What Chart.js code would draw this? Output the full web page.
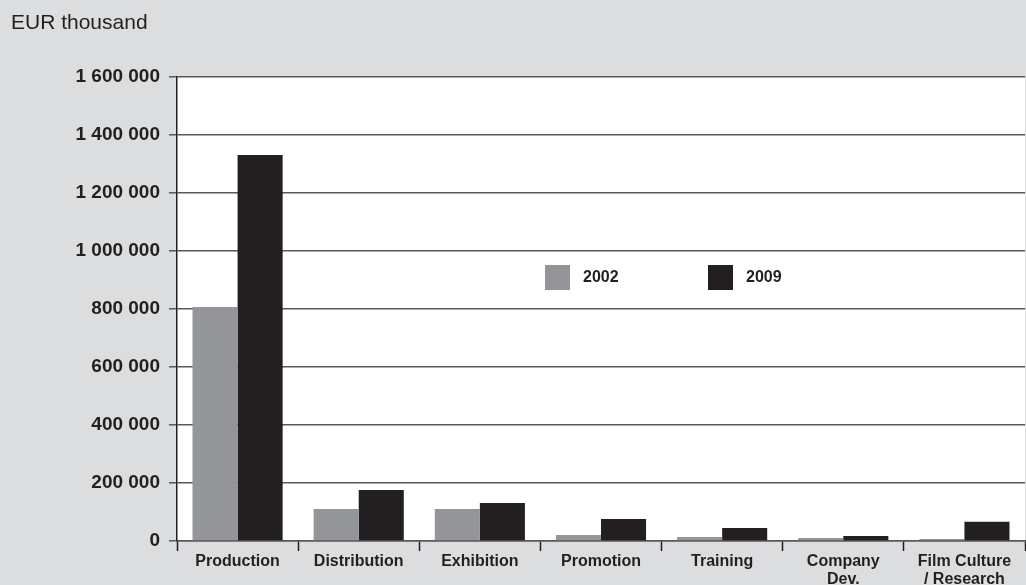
<!DOCTYPE html>
<html lang="en">
<head>
    <script src="https://cdn.jsdelivr.net/npm/chart.js"></script>
    <meta charset="UTF-8">
    <title>Public film funding by activity</title>
    <style>
        body { margin: 0; background: #dcdddf; }
        #wrap { position: relative; width: 1026px; height: 585px; }
        #unit { position: absolute; left: 11px; top: 10px; font: 21px "Liberation Sans", Arial, sans-serif; color: #231f20; }
        canvas { position: absolute; left: 0; top: 0; }
    </style>
</head>
<body>
    <div id="wrap">
        <canvas id="myChart" width="1026" height="585"></canvas>
        <div id="unit">EUR thousand</div>
    </div>
    <script>
        const categories = ['Production', 'Distribution', 'Exhibition', 'Promotion', 'Training', ['Company', 'Dev.'], ['Film Culture', '/ Research']];
        const years = ['2002', '2009'];
        const values2002 = [807000, 110000, 110000, 21000, 14000, 10000, 7000];
        const values2009 = [1331000, 176000, 131000, 76000, 45000, 17000, 66000];
        const yTicks = [0, 200000, 400000, 600000, 800000, 1000000, 1200000, 1400000, 1600000];
        const colors = ['#939598', '#231f20'];

        const font = '"Liberation Sans", Arial, sans-serif';

        // white plot area on the grey page
        const plotBackground = {
            id: 'plotBackground',
            beforeDraw(chart) {
                const a = chart.chartArea;
                const ctx = chart.ctx;
                ctx.save();
                ctx.fillStyle = '#ffffff';
                ctx.fillRect(a.left, a.top, a.right - a.left, a.bottom - a.top);
                ctx.restore();
            }
        };

        // legend drawn inside the plot, two items side by side
        const innerLegend = {
            id: 'innerLegend',
            afterDatasetsDraw(chart) {
                const ctx = chart.ctx;
                const xs = [545, 708];
                ctx.save();
                ctx.font = 'bold 16px ' + font;
                ctx.textBaseline = 'middle';
                chart.data.datasets.forEach((ds, i) => {
                    ctx.fillStyle = ds.backgroundColor;
                    ctx.fillRect(xs[i], 265, 25, 25);
                    ctx.fillStyle = '#231f20';
                    ctx.fillText(ds.label, xs[i] + 38, 278);
                });
                ctx.restore();
            }
        };

        new Chart(document.getElementById('myChart'), {
            type: 'bar',
            data: {
                labels: categories,
                datasets: [{
                    label: years[0],
                    data: values2002,
                    backgroundColor: colors[0],
                    categoryPercentage: 0.744,
                    barPercentage: 1.0
                }, {
                    label: years[1],
                    data: values2009,
                    backgroundColor: colors[1],
                    categoryPercentage: 0.744,
                    barPercentage: 1.0
                }]
            },
            options: {
                responsive: false,
                animation: false,
                layout: { padding: { top: 77, right: 1, left: 0, bottom: 0 } },
                plugins: {
                    legend: { display: false },
                    tooltip: { enabled: false }
                },
                scales: {
                    x: {
                        afterFit(scale) { scale.height = 44; },
                        grid: {
                            drawOnChartArea: false,
                            drawTicks: true,
                            tickLength: 10,
                            tickColor: '#231f20',
                            tickWidth: 1.5
                        },
                        border: { color: '#58595b', width: 1.5 },
                        ticks: {
                            color: '#231f20',
                            padding: 2,
                            maxRotation: 0,
                            autoSkip: false,
                            font: { family: font, size: 16, weight: 'bold', lineHeight: 1.1 }
                        }
                    },
                    y: {
                        min: 0,
                        max: 1600000,
                        afterFit(scale) { scale.width = 177; },
                        afterBuildTicks(scale) {
                            scale.ticks = yTicks.map(v => ({ value: v }));
                        },
                        grid: {
                            color: '#58595b',
                            lineWidth: 1.5,
                            tickLength: 8,
                            tickColor: '#58595b'
                        },
                        border: { color: '#231f20', width: 1.5 },
                        ticks: {
                            color: '#231f20',
                            padding: 9,
                            font: { family: font, size: 19, weight: 'bold' },
                            callback: v => v.toLocaleString('en-US').replace(/,/g, ' ')
                        }
                    }
                }
            },
            plugins: [plotBackground, innerLegend]
        });
    </script>
</body>
</html>
